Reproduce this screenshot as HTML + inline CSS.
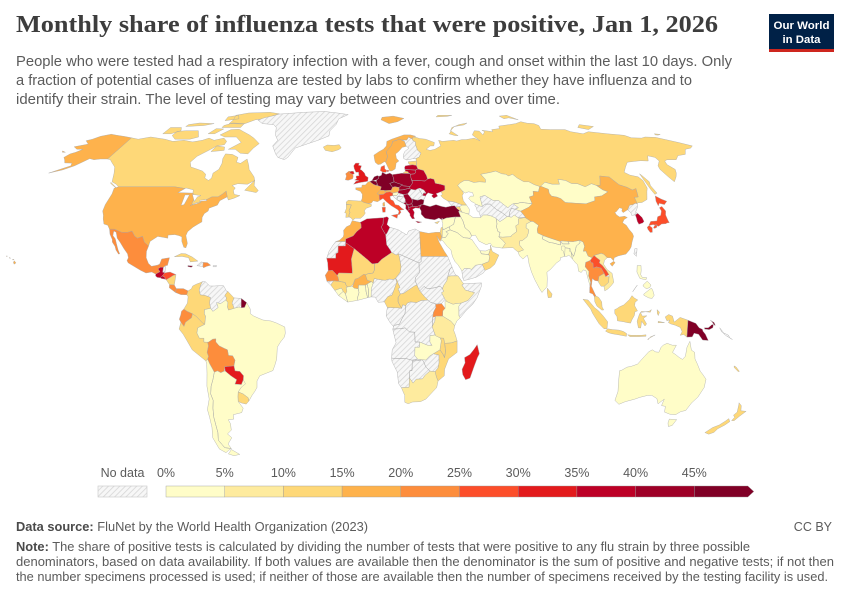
<!DOCTYPE html>
<html>
<head>
<meta charset="utf-8">
<style>
  html,body{margin:0;padding:0;background:#fff;}
  svg{display:block;}
  text{font-family:"Liberation Sans",Arial,sans-serif;}
</style>
</head>
<body>
<svg id="s" width="850" height="600" viewBox="0 0 850 600" xmlns="http://www.w3.org/2000/svg">
  <defs>
    <pattern id="hatch" patternUnits="userSpaceOnUse" width="4" height="4" patternTransform="rotate(45)">
      <rect width="4" height="4" fill="#f7f7f7"/>
      <line x1="0" y1="0" x2="0" y2="4" stroke="#d6d6d6" stroke-width="1.6"/>
    </pattern>
  </defs>
  <rect width="850" height="600" fill="#fff"/>

  <!-- Header -->
  <text x="16" y="32" style="font-family:'Liberation Serif',serif;font-weight:bold;font-size:24px" fill="#3d3d3d" textLength="702" lengthAdjust="spacingAndGlyphs">Monthly share of influenza tests that were positive, Jan 1, 2026</text>
  <text x="16" y="66" font-size="14.3" fill="#5b5b5b" textLength="716" lengthAdjust="spacingAndGlyphs">People who were tested had a respiratory infection with a fever, cough and onset within the last 10 days. Only</text>
  <text x="16" y="85" font-size="14.3" fill="#5b5b5b" textLength="676" lengthAdjust="spacingAndGlyphs">a fraction of potential cases of influenza are tested by labs to confirm whether they have influenza and to</text>
  <text x="16" y="104" font-size="14.3" fill="#5b5b5b" textLength="544" lengthAdjust="spacingAndGlyphs">identify their strain. The level of testing may vary between countries and over time.</text>

  <!-- Logo -->
  <rect x="769" y="14" width="65" height="38" fill="#002147"/>
  <rect x="769" y="49" width="65" height="3" fill="#ce261e"/>
  <text x="801.5" y="29" font-size="11" font-weight="bold" fill="#fff" text-anchor="middle" textLength="56" lengthAdjust="spacingAndGlyphs">Our World</text>
  <text x="801.5" y="43" font-size="11" font-weight="bold" fill="#fff" text-anchor="middle" textLength="38" lengthAdjust="spacingAndGlyphs">in Data</text>

  <g id="map" stroke="#a8a8a8" stroke-width="0.4" stroke-linejoin="round"></g>

  <!-- Legend -->
  <g id="legend"></g>

  <!-- Footer -->
  <text x="16" y="531" font-size="12.5" fill="#5b5b5b" textLength="352" lengthAdjust="spacingAndGlyphs"><tspan font-weight="bold" fill="#4a4a4a">Data source:</tspan> FluNet by the World Health Organization (2023)</text>
  <text x="832" y="531" font-size="12.5" fill="#5b5b5b" text-anchor="end">CC BY</text>
  <text x="16" y="551" font-size="12.5" fill="#5b5b5b" textLength="734" lengthAdjust="spacingAndGlyphs"><tspan font-weight="bold" fill="#4a4a4a">Note:</tspan> The share of positive tests is calculated by dividing the number of tests that were positive to any flu strain by three possible</text>
  <text x="16" y="566" font-size="12.5" fill="#5b5b5b" textLength="818" lengthAdjust="spacingAndGlyphs">denominators, based on data availability. If both values are available then the denominator is the sum of positive and negative tests; if not then</text>
  <text x="16" y="581" font-size="12.5" fill="#5b5b5b" textLength="812" lengthAdjust="spacingAndGlyphs">the number specimens processed is used; if neither of those are available then the number of specimens received by the testing facility is used.</text>
</svg>

<script>
(function(){
var XT=[1,0.9986,0.9954,0.99,0.9822,0.973,0.96,0.9427,0.9216,0.8962,0.8679,0.835,0.7986,0.7597,0.7186,0.6732,0.6213,0.5722,0.5322];
var YT=[0,0.062,0.124,0.186,0.248,0.31,0.372,0.434,0.4958,0.5571,0.6176,0.6769,0.7346,0.7903,0.8435,0.8936,0.9394,0.9761,1];
function ip(t,a){a=Math.min(Math.abs(a),90);var i=Math.min(Math.floor(a/5),17);var f=(a-i*5)/5;return t[i]+(t[i+1]-t[i])*f;}
function P(lon,lat){return [364.9+2.293*ip(XT,lat)*lon, 313.5-209.3*ip(YT,lat)*(lat<0?-1:1)];}
var C={n:'url(#hatch)',a:'#fffdc8',b:'#feeb9e',c:'#fed878',d:'#feb24c',e:'#fd8d3c',f:'#fc4e2a',g:'#e31a1c',h:'#bd0026',i:'#9e0027',j:'#800026',w:'#ffffff'};
var D=[
// North America
['c',[[-141,69.6],[-136,69],[-130,70],[-125,69.5],[-120,69],[-114,68],[-108,68.5],[-102,67.8],[-97,68.5],[-94,69.5],[-90,68.5],[-85,69.5],[-82,68],[-82,66.5],[-86,66],[-88,64.5],[-93,61.5],[-94.5,59],[-92.5,57],[-88,56],[-85,55.3],[-82.5,54],[-82,52.5],[-79.5,51.5],[-78.5,52.5],[-79,54.5],[-77,56],[-77,58.5],[-78,60.5],[-78,62.5],[-74,62.3],[-70,61],[-69.5,59],[-67,58.5],[-64.5,60.3],[-62,57.5],[-61,56],[-57,53],[-56,51.5],[-59,50],[-64,50.2],[-66.5,49.5],[-64.5,48.5],[-65,47.5],[-64,46],[-61,45.5],[-63.5,44.5],[-66,43.8],[-67,45],[-68.5,47.3],[-70,46],[-71.5,45],[-74.5,45],[-76.5,44],[-79,43.3],[-79,42.8],[-82.5,42],[-83,42.5],[-82.5,45],[-84.5,46.5],[-88.5,48.2],[-95,49],[-123,49],[-125,50],[-128,51],[-130.5,54.5],[-133,57],[-137,59],[-139,60],[-141,60.3]],
 [[-62,67],[-64,65],[-65.5,62.5],[-70,62.8],[-74,64.5],[-78,64.5],[-73,67.5],[-78,70],[-85,70],[-89,71],[-85,73.5],[-80,73.7],[-76,72.5],[-71,71],[-67,69.5]],
 [[-118,70.7],[-118,72.6],[-113,73],[-105,73],[-101,70],[-105,69],[-114,69]],
 [[-90,76.5],[-80,76.3],[-75,78.5],[-70,79],[-62,82],[-70,83],[-85,82.5],[-92,81],[-90,78.5]],
 [[-125,71.5],[-125,74.5],[-118,74.5],[-116,73],[-120,71.5]],
 [[-92,74.5],[-80,74.5],[-80,76.5],[-88,76.8],[-92,75.5]],
 [[-97,71.5],[-95,74],[-90,73.8],[-93,71.5]],
 [[-116,75],[-105,75.5],[-100,76.5],[-110,76.8],[-116,76]],
 [[-95,78],[-87,79],[-90,81],[-96,80]],
 [[-59.5,47.6],[-56,51.6],[-55.5,49.5],[-52.7,47.5],[-53.5,46.7],[-55.5,47]],
 [[-87,63.5],[-80,64],[-81,65.5],[-86,66]],
 [[-128.4,50.8],[-123.4,48.4],[-125,49],[-128,50.3]]],
['d',[[-123,49],[-95,49],[-88.5,48.2],[-84.5,46.5],[-82.5,45],[-83,42.5],[-82.5,42],[-79,42.8],[-79,43.3],[-76.5,44],[-74.5,45],[-71.5,45],[-70,46],[-68.5,47.3],[-67,45],[-70,43.5],[-70.5,41.8],[-74,40.6],[-74,39.5],[-75.5,38.5],[-76,37],[-75.5,35.3],[-77,34.5],[-79,33.3],[-81,31.5],[-81.3,30],[-80,27],[-80.3,25.3],[-81.3,25.5],[-82.7,27.8],[-83,29.5],[-84.5,30],[-86.5,30.4],[-89.5,30.2],[-89.3,29],[-91,29.3],[-94,29.7],[-97,27.8],[-97.2,26],[-99.5,27.5],[-101,29.8],[-103,29],[-104.5,29.8],[-106.5,31.8],[-108.2,31.3],[-111,31.3],[-114.8,32.5],[-117.1,32.5],[-118.5,34],[-120.5,34.5],[-121.9,36.5],[-122.5,37.8],[-123.8,39.5],[-124.2,42],[-124,46.2],[-124.7,48.4]],
 [[-141,60.3],[-141,69.6],[-146,70.2],[-152,70.8],[-156.5,71.3],[-161,70.3],[-163.5,69],[-166,68.3],[-162,66.8],[-164,66.4],[-168,65.6],[-164.5,64.5],[-161,64.5],[-163,63.2],[-165,62.5],[-166,61],[-164,60],[-162,58.7],[-158,58.6],[-157,57.5],[-162,55.5],[-164.5,54.5],[-159,55.8],[-155,57.5],[-153,59],[-151,60.5],[-148,60],[-145,60.3]],
 [[-171.5,63.8],[-168.8,63.2],[-170.5,63.2]],
 [[-155.5,19],[-154.8,19.5],[-155.8,20.3],[-156,19.7]],[[-156.7,20.9],[-156,20.8],[-156.5,20.6]],[[-158.3,21.6],[-157.7,21.3],[-158.2,21.3]],[[-159.8,22.2],[-159.3,22.1],[-159.6,21.9]]],
['n',[[-73,78.3],[-68,76.5],[-60,76],[-57,74.5],[-55,71],[-52,68.5],[-53.5,66],[-50,62.5],[-48,61],[-44,60],[-42.5,61],[-40,65],[-35,66.5],[-28,68.5],[-22,70.5],[-22,73],[-19,76],[-18,79],[-12,81.5],[-20,82.5],[-30,83.5],[-45,83],[-55,82.3],[-62,81.8],[-65,80.8],[-70,79.5]]],
['e',[[-117.1,32.5],[-114.8,32.5],[-111,31.3],[-108.2,31.3],[-106.5,31.8],[-104.5,29.8],[-103,29],[-101,29.8],[-99.5,27.5],[-97.2,26],[-97.7,24],[-97.4,21.5],[-96,19.3],[-94.5,18.2],[-92,18.6],[-91,19],[-90.4,21],[-87,21.5],[-87.5,18.5],[-88.3,18.5],[-89.1,17.8],[-90.5,17.8],[-91.4,17.2],[-90.4,16.1],[-92.2,15.2],[-94,16],[-96.5,15.6],[-99,16.6],[-101.5,17.8],[-105,19.5],[-105.7,20.4],[-105.3,21.5],[-106,23],[-108,25],[-110.5,27.5],[-112.2,29],[-113.5,31.3],[-114.8,31.8],[-114.5,30],[-113,28.8],[-112,27],[-110.5,24.5],[-109.5,23],[-110,22.9],[-111.5,24.5],[-112.2,25.8],[-114,27.5],[-114.3,28.5],[-116,30.5]]],
['h',[[-92.2,15.2],[-90.4,16.1],[-91.4,17.2],[-90.5,17.8],[-89.1,17.8],[-89.2,15.9],[-88.2,15.7],[-89.2,14.5],[-90.1,13.8],[-91.4,13.9],[-92.2,14.5]]],
['n',[[-89.1,17.8],[-88.3,18.5],[-88.2,16],[-89.2,15.9]]],
['h',[[-90.1,13.8],[-89.2,14.5],[-88,14],[-87.8,13.2],[-89.5,13.5]]],
['f',[[-89.2,14.5],[-88.2,15.7],[-86,16],[-83.2,15],[-84.5,14.6],[-85.5,14],[-87.3,13],[-87.8,13.2],[-88,14]]],
['c',[[-83.2,15],[-83.6,11],[-85.7,11.1],[-87.3,13],[-85.5,14],[-84.5,14.6]]],
['e',[[-83.6,11],[-82.6,9.6],[-82.9,8.1],[-85.7,9.9],[-85.7,11.1]],[[-82.6,9.6],[-79.5,9.6],[-77.4,8.7],[-77.9,7.2],[-80.5,7.3],[-82.9,8.1]]],
['c',[[-84.9,21.9],[-82,23.1],[-80,23],[-77,21.8],[-74.2,20.2],[-77.5,19.9],[-78.5,21.5],[-81.5,22],[-84,21.9]]],
['n',[[-74.4,18.4],[-72.7,19.9],[-71.7,19.7],[-71.7,18.1]],[[-67.2,18.5],[-65.6,18.4],[-65.8,18],[-67.2,18]]],
['e',[[-71.7,19.7],[-69.9,19.6],[-68.3,18.6],[-70,18.2],[-71.4,17.6],[-71.7,18.1]]],
['j',[[-78.4,18.5],[-76.2,18.3],[-76.8,17.8],[-78.4,18.1]]],
// South America
['c',[[-77.4,8.7],[-76,9.5],[-75.5,10.6],[-74,11.3],[-72.5,11.8],[-71.3,12.3],[-72,11],[-72.5,9],[-72,7.2],[-70,7],[-67.5,6.2],[-67.8,4],[-67.3,2],[-70,1.5],[-70,-0.2],[-69.5,-1],[-69.9,-4.2],[-70.7,-3.8],[-73.5,-1.2],[-75.2,-0.1],[-77.5,0.8],[-79,1.7],[-77.5,4],[-77.3,6.5],[-77.9,7.2]]],
['n',[[-71.3,12.3],[-70,12.2],[-68,10.6],[-66,10.6],[-64,10.7],[-62,10.7],[-60.5,8.5],[-60,8.5],[-61.2,7],[-60.5,6],[-60.7,5.2],[-63,3.8],[-64.8,4.2],[-64,2.3],[-66.3,0.8],[-67.3,2],[-67.8,4],[-67.5,6.2],[-70,7],[-72,7.2],[-72.5,9],[-72,11]]],
['c',[[-60,8.5],[-57.2,6],[-58,4],[-57,2],[-59.5,1.3],[-60,2.5],[-59.8,4.2],[-60.7,5.2],[-60.5,6],[-61.2,7]]],
['n',[[-57.2,6],[-54,5.8],[-54,3.6],[-55,2.5],[-57,2],[-58,4]]],
['j',[[-54,5.8],[-51.6,4.2],[-52.5,2.3],[-54,2.2],[-54,3.6]]],
['e',[[-80,0.9],[-79,1.7],[-77.5,0.8],[-75.2,-0.1],[-75.6,-1.6],[-78.3,-3.4],[-79,-5],[-80.3,-3.4],[-81,-2.2],[-80.3,-0.5]]],
['c',[[-75.2,-0.1],[-73.5,-1.2],[-70.7,-3.8],[-69.9,-4.2],[-73,-5.5],[-73.5,-7.5],[-72.5,-9.5],[-70.5,-9.5],[-70.6,-11],[-69,-11],[-68.7,-12.5],[-69.5,-15],[-69,-16.5],[-69.6,-17.6],[-70.4,-18.3],[-71.5,-17.4],[-76,-14],[-78,-10.5],[-79.5,-8],[-81.2,-6],[-80.3,-3.4],[-79,-5],[-78.3,-3.4],[-75.6,-1.6]]],
['a',[[-60.7,5.2],[-59.8,4.2],[-60,2.5],[-59.5,1.3],[-57,2],[-55,2.5],[-54,2.2],[-52.5,2.3],[-51.6,4.2],[-50,1.7],[-50,0],[-48.5,-1],[-44.5,-2.5],[-41,-2.9],[-38.5,-3.7],[-35,-5.2],[-34.8,-7.5],[-35.2,-9],[-37,-11],[-38.5,-13],[-39,-17.5],[-40,-20],[-41,-22],[-44,-23],[-47,-24],[-48.5,-26],[-48.8,-28.5],[-50,-30],[-51.5,-31.5],[-53.4,-33.7],[-53.5,-32.5],[-55.5,-31],[-57.6,-30.2],[-56,-28.5],[-54.6,-25.6],[-54.3,-24],[-55.8,-22.3],[-57.9,-22.1],[-58.2,-20.2],[-57.5,-18],[-58.4,-16.3],[-60.2,-16.2],[-60.5,-14],[-61.8,-13.5],[-64,-12.5],[-65.4,-11],[-65.3,-9.8],[-66.7,-9.9],[-68.7,-11.1],[-70.6,-11],[-70.5,-9.5],[-72.5,-9.5],[-73.5,-7.5],[-73,-5.5],[-69.9,-4.2],[-69.5,-1],[-70,-0.2],[-70,1.5],[-67.3,2],[-66.3,0.8],[-64,2.3],[-64.8,4.2],[-63,3.8]]],
['e',[[-69.6,-17.6],[-69,-16.5],[-69.5,-15],[-68.7,-12.5],[-69,-11],[-68.7,-11.1],[-66.7,-9.9],[-65.3,-9.8],[-65.4,-11],[-64,-12.5],[-61.8,-13.5],[-60.5,-14],[-60.2,-16.2],[-58.4,-16.3],[-57.5,-18],[-58.2,-20.2],[-62.3,-20.5],[-62.7,-22.2],[-64.3,-22.8],[-65.7,-22.1],[-67.2,-22.6],[-68,-21],[-68.8,-19.5]]],
['g',[[-58.2,-20.2],[-57.9,-22.1],[-55.8,-22.3],[-54.3,-24],[-54.6,-25.6],[-55.7,-27.4],[-58.6,-27.2],[-57.6,-25.5],[-60,-24],[-62.3,-22.2],[-62.3,-20.5]]],
['c',[[-57.6,-30.2],[-55.5,-31],[-53.5,-32.5],[-53.4,-33.7],[-54.9,-34.9],[-57,-34.5],[-58.4,-33.9],[-58.1,-32]]],
['a',[[-64.3,-22.8],[-62.7,-22.2],[-62.3,-22.2],[-60,-24],[-57.6,-25.5],[-58.6,-27.2],[-55.7,-27.4],[-54.6,-25.6],[-53.8,-27.1],[-56,-28.5],[-57.6,-30.2],[-58.1,-32],[-58.4,-33.9],[-57.3,-35.5],[-56.7,-36.5],[-57.8,-38.2],[-62,-39],[-62.3,-40.7],[-65,-41],[-64.5,-42.5],[-65,-45],[-67.5,-46.5],[-66,-48],[-69,-50.5],[-68.3,-52.3],[-71.5,-52],[-72.3,-50.5],[-73.2,-49],[-72,-46],[-71.8,-44],[-71.5,-40],[-70.8,-36.5],[-69.8,-33.5],[-70.3,-31],[-69.5,-28],[-68.2,-25.5],[-67.2,-22.6],[-65.7,-22.1]],
 [[-70.4,-18.3],[-69.6,-17.6],[-68.8,-19.5],[-68,-21],[-67.2,-22.6],[-68.2,-25.5],[-69.5,-28],[-70.3,-31],[-69.8,-33.5],[-70.8,-36.5],[-71.5,-40],[-71.8,-44],[-72,-46],[-73.2,-49],[-72.3,-50.5],[-71.5,-52],[-68.3,-52.3],[-70,-53],[-72,-54],[-74.5,-52.5],[-75.5,-48],[-74,-44],[-73.5,-40],[-73.5,-37],[-71.5,-33],[-71.4,-28],[-70.5,-23],[-70.2,-19.5]],
 [[-68.5,-52.7],[-65.2,-54.7],[-68.5,-55.2],[-71,-54.5]]],
// Europe
['c',[[-22.5,64],[-24,65.5],[-22,66.4],[-18,66.2],[-15,66.5],[-13.6,65.1],[-15,64.3],[-18.5,63.4],[-21,63.8]]],
['d',[[5,62],[5.3,60],[5.6,58.9],[7,58],[8.5,58.2],[10.5,59.2],[11.2,59],[11.8,59.8],[12.5,61.5],[12,63.5],[14,65],[15.5,66.2],[16.5,68],[19,68.5],[20.5,69.1],[22,68.6],[25,68.6],[26.5,69.9],[28.5,69],[29,69.9],[31,70.3],[28,71],[24,71],[20,70],[16,69],[13,68],[12.5,66],[10.5,64.5],[8,63.5]],
 [[11,78.5],[16,76.5],[22,77.5],[27,79.2],[20,80.5],[12,79.8]],
 [[11.2,59],[12.5,56.4],[13,55.4],[14.2,55.4],[16,56.2],[16.5,57.5],[16.8,58.6],[18.5,59.5],[17.3,60.6],[17.2,62.5],[19,63.5],[21.5,65.3],[24,65.8],[23.5,68],[22,68.6],[20.5,69.1],[19,68.5],[16.5,68],[15.5,66.2],[14,65],[12,63.5],[12.5,61.5],[11.8,59.8]]],
['n',[[21.3,60.5],[22.8,59.9],[26,60.4],[28,60.5],[30,61.2],[31.5,62.9],[30,64],[29.5,66.5],[30,67.7],[28.5,68.5],[28.5,69],[26.5,69.9],[25,68.6],[22,68.6],[23.5,68],[24,65.8],[25.3,65],[22.5,63.5],[21.4,62]]],
['f',[[8.1,55.5],[8.6,57.1],[10.5,57.7],[10.5,56.2],[11.5,55.6],[11,54.8],[9.5,54.8]],[[11.8,55.7],[12.6,55.6],[12.2,55],[11.2,55.2]]],
['g',[[-5.7,50],[-3,50.6],[1.4,51.2],[1.7,52.7],[0.3,53.4],[-0.2,54.5],[-1.6,55.6],[-2.5,56],[-1.8,57.5],[-3.5,57.7],[-3,58.6],[-5,58.6],[-6,57.5],[-5.6,56.3],[-5,55.3],[-4.7,54.8],[-3.3,54.9],[-3.2,54],[-3,53.4],[-4.5,53.3],[-4.5,52.8],[-4.2,52.2],[-5.2,51.7],[-3,51.4],[-4.5,51.2]],[[-5.5,54.3],[-6,55.2],[-7.3,55.2],[-8.1,54.5],[-6.2,54]]],
['e',[[-6.2,54],[-6,53],[-6.3,52.2],[-8.5,51.6],[-10,51.8],[-9.5,53.3],[-10,54.2],[-8.5,55.2],[-7.3,55.2],[-8.1,54.5]]],
['d',[[-1.8,43.4],[-1.3,44.5],[-1.2,46],[-2.2,47.2],[-4.5,47.9],[-4.6,48.6],[-1.6,48.7],[-1.4,49.7],[0.2,49.7],[1.6,50.9],[2.5,51.1],[4.2,50],[5.8,49.5],[6.3,49.5],[8.2,49],[7.6,47.6],[7.5,47.6],[6,46.3],[6.9,45.9],[7,45.5],[7,44],[7.5,43.8],[6,43.1],[4,43.5],[3,42.5],[1.7,42.4],[-0.5,42.8]],[[8.6,41.4],[9.5,41.4],[9.4,43],[8.6,42.6]]],
['c',[[-9,43],[-8,43.7],[-3,43.4],[-1.8,43.4],[-0.5,42.8],[1.7,42.4],[3.2,42],[3,41.3],[0.5,40.5],[-0.3,39.5],[0.2,38.7],[-0.7,37.6],[-2,36.7],[-4.5,36.7],[-5.6,36],[-6.4,36.8],[-7.4,37.2],[-7.5,38],[-7,39],[-7.5,39.7],[-6.8,41],[-6.5,41.9],[-8.2,42],[-8.9,42]],
 [[-8.9,42],[-8.2,42],[-6.5,41.9],[-6.8,41],[-7.5,39.7],[-7,39],[-7.5,38],[-7.4,37.2],[-8.9,37],[-8.8,38.7],[-9.5,38.8],[-8.8,40.5]]],
['j',[[3.4,51.4],[4.2,51.4],[6,51.8],[7,52.3],[7.2,53.2],[6.5,53.5],[4.8,53],[4,52]],
 [[2.5,51.1],[3.4,51.4],[4.2,51.4],[5.8,51.1],[6.2,50.2],[5.8,49.5],[4.2,50]],
 [[6,51.8],[7,52.3],[7.2,53.2],[8.5,53.6],[9,54.8],[11,54],[13,54.5],[14.2,53.9],[14.6,52.6],[14.8,51],[12.5,50.3],[13.8,48.8],[13,47.6],[10.5,47.5],[7.6,47.6],[8.2,49],[6.3,49.5],[6.2,50.2],[5.8,51.1]],
 [[12.5,50.3],[14.8,51],[16.5,50.4],[18.8,49.8],[17,48.7],[15,49],[13.8,48.8]]],
['d',[[6,46.3],[7.6,47.6],[9.5,47.6],[10.5,46.8],[9,46],[6.9,45.9]],
 [[9.5,47.5],[13,47.6],[13.8,48.8],[15,49],[17,48.7],[17,47.7],[16.2,46.9],[13.7,46.5],[12.3,47],[10.5,46.8]]],
['i',[[14.2,53.9],[19,54.4],[23.5,54.3],[23.6,52.5],[24,50.5],[22.6,49.1],[19,49.4],[18.8,49.8],[16.5,50.4],[14.8,51],[14.6,52.6]],
 [[17,48.7],[18.8,49.8],[19,49.4],[22.6,49.1],[22.1,48.4],[18.8,47.8],[17,47.7]],
 [[16.2,46.9],[17,47.7],[18.8,47.8],[22.1,48.4],[22.9,48],[21,46.2],[18.8,45.9],[16.5,46.5]],
 [[19,45],[18.8,45.9],[21,46.2],[22.5,44.5],[23,43.5],[22.5,42.3],[20.5,42],[19.5,43],[19.5,44]],
 [[19.4,42],[20.5,42],[20.7,41],[21,40],[20,39.7],[19.3,40.5],[19.5,41.5]],
 [[20.5,42],[22.5,42.3],[23,41.3],[21,40.9],[20.7,41]],
 [[18.5,42.5],[19.5,43],[20.5,42],[19.4,42]]],
['a',[[13.7,46.5],[16.2,46.9],[16.5,46.5],[15.5,45.5],[13.6,45.5]]],
['n',[[13.6,45.5],[15.5,45.5],[16.5,46.5],[18.8,45.9],[19,45],[16,45.2],[15.5,44],[17.5,43],[18.5,42.5],[16,43.5],[14,45]],
 [[16,45.2],[19,45],[19.5,44],[19.5,43],[18.5,42.5],[17.5,43],[15.5,44]]],
['f',[[7,44],[7,45.5],[6.9,45.9],[9,46],[10.5,46.8],[12.3,47],[13.7,46.5],[13.6,45.5],[12.2,45.2],[12.5,44],[13.7,43.5],[14.5,42],[16.2,41.7],[17.5,40.6],[18.5,40.1],[16.6,39.8],[17,39],[16,38],[15.6,38.2],[16.1,39.4],[15.5,40],[14.5,40.6],[12.5,41.6],[10.5,43],[8.8,44.4],[7.5,43.8]],
 [[12.4,37.8],[15.5,38.3],[15,36.7]],[[8.4,39],[9.6,39.1],[9.8,41],[8.2,41]]],
['c',[[23.5,59.2],[28,59.5],[27.5,57.6],[25.5,57.9],[24.3,57.8],[23.5,58.5]]],
['h',[[21,56.8],[21.6,57.5],[24.3,57.8],[25.5,57.9],[27.5,57.6],[28,56.2],[26.5,55.7],[21,56]],
 [[21,56],[26.5,55.7],[26.6,55],[25.8,54.2],[23.5,54],[23.5,54.3],[21.3,55.2]],
 [[23.5,54],[25.8,54.2],[26.6,55],[26.5,55.7],[28,56.2],[30.8,55.6],[31.8,53.5],[32,52.1],[30.5,51.3],[27,51.5],[24,51.6],[23.6,52.5]],
 [[24,51.6],[27,51.5],[30.5,51.3],[32,52.1],[33.5,52.4],[35.3,52],[35.5,50.4],[38,50],[40,49.5],[39.7,47.8],[38.2,47.2],[37.5,47],[35,46.3],[35.5,45.3],[33.5,44.5],[32.5,45.4],[33.5,46],[31,46.6],[30,45.8],[29.6,45.3],[28.2,45.5],[28.7,46.5],[30,46.5],[29.2,47.7],[27.5,48.4],[26.6,48.3],[24.9,47.7],[22.9,48],[22.1,48.4],[22.6,49.1],[24,50.5]],
 [[20,39.7],[21,40],[20.7,41],[21,40.9],[23,41.3],[25,41.3],[26.4,41.8],[26,40.6],[24,40.7],[22.6,40.2],[23.3,39],[22.8,37.5],[23.2,36.5],[22,36.5],[21.1,37.8],[21.2,38.4],[20.2,39.5]],
 [[23.5,35.6],[26.3,35.2],[24.5,34.9]]],
['n',[[26.6,48.3],[27.5,48.4],[29.2,47.7],[30,46.5],[28.7,46.5],[28.2,45.5],[27.3,47.3]],
 [[22.9,48],[24.9,47.7],[26.6,48.3],[27.3,47.3],[28.2,45.5],[29.6,45.3],[28.6,44],[27.2,44.1],[25.5,43.7],[22.7,44.2],[22.5,44.5],[21,46.2]]],
['j',[[22.7,44.2],[25.5,43.7],[27.2,44.1],[28.6,43.7],[27.9,42],[26.4,41.8],[25,41.3],[23,41.3],[22.5,42.3],[23,43.5],[22.5,44.5]],
 [[26,40.6],[26.6,41.8],[28,42],[31,41.2],[34,42],[36.5,41.3],[38.5,41],[41.5,41.5],[42.8,41.6],[43.6,40.5],[44.8,39.7],[44.2,39.4],[44.8,37.2],[42.3,37.2],[41,37.1],[38,36.8],[36.5,36.3],[35.8,36.8],[36.1,36],[34.5,36.8],[32.5,36.1],[30.5,36.3],[28,36.7],[27.2,37.5],[26.4,38.3],[26.6,39.5]]],
['c',[[32.3,35],[34.6,35.6],[33.5,34.6]]],
// Russia
['c',[[37.5,47],[38.2,47.2],[39.7,47.8],[40,49.5],[38,50],[35.5,50.4],[35.3,52],[33.5,52.4],[32,52.1],[31.8,53.5],[30.8,55.6],[28,56.2],[27.6,57.5],[28,59],[28,60.5],[30,61.2],[31.5,62.9],[30,64],[29.5,66.5],[30,67.7],[28.5,68.5],[28.5,69],[29,69.9],[31,69.8],[33,69.3],[36.5,69],[41,67.5],[40,66],[38,66],[35,64.5],[37,64],[40,64.5],[44,66],[44,68.5],[46,68],[53,68.5],[54.5,68.2],[58,68.8],[60.5,68.8],[66,69.5],[68.5,68.2],[66,71],[69,73],[72,72.8],[72.5,71],[75,72.5],[74,73.2],[80,72.5],[80.5,73.5],[86,74],[87,75.2],[95,76],[100,76.5],[105,77.5],[108,76.7],[112,76.5],[113.5,75.5],[112,73.7],[118,73.5],[127,73.5],[129,72.5],[135,71.5],[140,72.5],[150,71.5],[159,70.8],[161,69.6],[167,69.5],[170,70],[176,69.8],[180,68.8],[185,67.5],[190,66],[187,65],[183,64.5],[179,62.3],[174,61.8],[170,60],[165,60],[163,59.5],[162,58],[163.5,56],[162,54.5],[160,53],[156.7,51],[156,53],[155.5,56],[156.5,57.5],[160,59.5],[160,61],[157,61.7],[154,59.5],[150,59.6],[146,59.3],[142,59],[138.5,57],[135.2,54.8],[137,53.7],[140.5,53],[141.3,51.5],[140.5,48.5],[139,47],[136.5,44],[133.2,42.8],[131.2,42.7],[130.6,42.4],[131,44.8],[133,45],[134.7,48.3],[132.5,47.7],[130.7,48.8],[127.5,49.8],[125.5,52.9],[121,53.3],[120,52],[117.8,49.5],[116,49.5],[114,50.2],[110,49],[107,50.2],[104,50.3],[102,51.5],[98.5,52],[97.8,50],[94,50],[91,50.8],[88,49.2],[87.3,49.1],[85,49.8],[83,51],[80.5,51],[78,52.5],[76.5,54],[74,53.3],[73,54],[71,54.2],[68.5,55.3],[65,54.7],[60,54],[61.5,52],[61,50.8],[58,51],[55,50.7],[52.5,51.5],[50.5,51.5],[48,50.5],[46.5,49.5],[47,48.8],[48,47.5],[48.5,46.5],[47.5,45.5],[47.5,43.5],[48.6,41.8],[46.6,41.8],[43,43],[40,43.4],[38,44.5],[37,45.5],[38,46]],
 [[52,71.5],[55,70.7],[57,70.6],[54,73],[56,74.5],[62,76],[68,76.8],[65,75.8],[58,75],[55,73.5],[53,72]],
 [[96,79],[100,79.5],[105,78.5],[101,81],[95,80.5]],
 [[137,74.5],[142,73.5],[148,75],[141,76]],
 [[50,80],[58,80.3],[62,81],[52,81]],
 [[179,71.5],[182,71.2],[180,70.9],[178.5,71]],
 [[142,46],[143.5,46.5],[143,49.5],[144,51],[143,53.5],[142.5,54.2],[142,51.5],[141.7,48]],
 [[19.6,54.4],[22.8,54.4],[22.5,55.1],[21.2,55.2]]],
['n',[[40,43.4],[43,43],[46.6,41.8],[45,41.2],[43.5,41.1],[42.8,41.6],[41.5,41.5]]],
['a',[[45,41.2],[46.6,41.8],[48.6,41.8],[49.5,40.2],[48.9,38.4],[48,38.5],[46,38.9],[45.5,39.5]]],
['c',[[43.5,41.1],[45,41.2],[45.5,39.5],[46,38.9],[44.8,39.7],[43.6,40.5]]],
// Africa
['d',[[-5.9,35.8],[-2.2,35.1],[-1.8,34.5],[-1.7,33],[-3.7,31.6],[-5.3,29.9],[-8.7,28.7],[-8.7,27.7],[-13.2,27.7],[-11.5,28.2],[-9.8,29.6],[-9.6,30.6],[-9.8,32],[-8.5,33.4],[-6.8,34.1]]],
['n',[[-8.7,27.7],[-13.2,27.7],[-14.5,26.2],[-16,24],[-17,21.3],[-13,21.3],[-13,23],[-12,23.5],[-12,26],[-8.7,26]]],
['g',[[-17,21.3],[-16.5,19.5],[-16.2,16.5],[-14.3,16.6],[-12.2,14.6],[-11.5,15.6],[-5.5,15.5],[-5.5,16.4],[-6,21],[-4.8,25],[-8.7,27.3],[-8.7,26],[-12,26],[-12,23.5],[-13,23],[-13,21.3]]],
['h',[[-2.2,35.1],[1,36.5],[8.6,36.9],[8.4,34.5],[7.5,33.3],[9.5,30.2],[9.8,26.5],[11.5,24.3],[12,23.5],[7.5,20.9],[5.8,19.4],[4.3,19.2],[3.2,19.1],[1.2,20.7],[-4.8,25],[-8.7,27.3],[-8.7,28.7],[-5.3,29.9],[-3.7,31.6],[-1.7,33],[-1.8,34.5]],
 [[8.6,36.9],[10.3,37.3],[11.1,36.8],[10.2,34.3],[11.5,33.2],[10.3,31.2],[9.5,30.2],[7.5,33.3],[8.4,34.5]]],
['n',[[11.5,33.2],[15.2,32.3],[19,30.3],[20,31.8],[23,32.6],[25,31.6],[25,22],[25,20],[24,19.5],[15,23],[14,22.5],[12,23.5],[11.5,24.3],[9.8,26.5],[9.5,30.2],[10.3,31.2]],
 [[15,23],[24,19.5],[24,15.7],[22.4,14],[22,12.8],[22.8,11],[21.7,10.6],[19,9],[17,7.8],[15.5,7.5],[14.5,9.5],[15.4,10],[14.6,11.5],[14,13],[13.5,13.6],[15.6,16],[16,18],[15.5,20.8]],
 [[24,19.5],[25,20],[25,22],[36.9,22],[38.5,18],[37.5,17],[36.5,14.3],[36,12.6],[34.5,10.8],[34,9.5],[33,10.5],[30.5,9.9],[27.5,9.5],[25.9,10.4],[24,8.7],[23.5,9.5],[22.8,11],[22,12.8],[22.4,14],[24,15.7]],
 [[34,9.5],[34.5,8.5],[33.5,8],[35,5.5],[33.5,3.8],[31,3.7],[28.5,4.4],[27.5,5.2],[26,6.5],[24,8.7],[25.9,10.4],[27.5,9.5],[30.5,9.9],[33,10.5]],
 [[38.5,18],[39.5,15.5],[42.5,12.5],[41,14.5],[38,14.5],[36.5,14.3],[37.5,17]],
 [[43.3,11.5],[51.2,11.8],[51,10.4],[49,6],[47,3.5],[44,1],[41.6,-1.7],[41,-0.9],[41,2.8],[42,4],[45,5],[48,8],[44,9],[42.5,11]],
 [[31,2.3],[29.9,0.5],[29.6,-1.4],[29.4,-5],[30.2,-7],[30.7,-8.3],[28.5,-8.5],[28.5,-11],[29.5,-12.3],[27.5,-12.2],[24,-11],[22,-11],[21.8,-7.2],[19.5,-7.1],[17.5,-5.5],[16.2,-5.8],[12.2,-6],[12.5,-5],[13,-4.5],[15,-4.2],[16.2,-2],[17.5,0],[17.8,3],[18.5,4],[20,4.5],[22.5,4.2],[24.5,5],[27.5,5.2],[28.5,4.4],[31,3.7],[30.8,3.5]],
 [[12.5,-5],[11,-3.5],[9.3,-1],[9.5,1],[9.8,2.3],[11.3,2.3],[13.3,2.2],[14.5,2.2],[16,2],[16.5,3.4],[17.8,3],[17.5,0],[16.2,-2],[15,-4.2],[13,-4.5]],
 [[2.7,6.4],[4.5,6.3],[5.8,4.3],[7,4.4],[8.5,4.5],[8.8,5],[10,6.5],[11.8,7],[12.5,8.5],[14,12],[13.5,13.6],[12.5,13.1],[10.7,13.3],[9,12.8],[7,13],[4.1,13.5],[3.6,11.7],[2.8,9.5]],
 [[29.6,-1.4],[30.8,-1],[30.5,-3],[29.4,-5]],
 [[12.2,-6],[16.2,-5.8],[17.5,-5.5],[19.5,-7.1],[21.8,-7.2],[22,-11],[24,-11],[24,-13],[22,-13],[22,-16.2],[23.4,-17.6],[20.8,-18],[18.5,-17.4],[13.5,-17.3],[11.8,-17.2],[12,-14],[13.7,-11.3],[13,-9],[12.3,-6.5]],
 [[25.2,-17.8],[27,-17.9],[28.5,-16.5],[30.2,-15.5],[32.7,-16],[32.9,-19],[32.5,-21],[31.3,-22.4],[29,-22.2],[27,-20.5],[26,-18.5]],
 [[11.8,-17.2],[13.5,-17.3],[18.5,-17.4],[20.8,-18],[23.4,-17.6],[25.2,-17.8],[23.5,-18.2],[21,-18.3],[21,-22],[20,-22],[20,-28.4],[16.5,-28.6],[15.2,-27],[14.4,-22.5],[12,-18.5]],
 [[20,-22],[21,-22],[21,-18.3],[23.5,-18.2],[25.2,-17.8],[26,-18.5],[27,-20.5],[29,-22.2],[27,-23.7],[25.8,-25.2],[23,-25.3],[21.7,-26.8],[20,-24.8]],
 [[42.8,16.3],[43.3,16.7],[44,17.4],[46.5,17.3],[47,16.9],[49,18.6],[52,19],[53.1,16.6],[52.2,15.6],[49,14],[45,13],[43.4,12.7],[43,14]],
 [[-15,11],[-13.7,12.6],[-16.7,12.4]]],
['d',[[25,31.6],[29,30.9],[32.3,31.3],[34.2,31.3],[34.9,29.5],[34,27.8],[32.6,29.9],[33.5,27.5],[35.5,24],[36.9,22],[25,22]]],
['c',[[-12.2,14.6],[-11.5,15.6],[-5.5,15.5],[-5.5,16.4],[-6,21],[-4.8,25],[1.2,20.7],[3.2,19.1],[4.3,19.2],[4.3,16.9],[3.6,15.6],[1.3,15.3],[0.2,14.9],[-0.5,15.1],[-2,14.2],[-3,13.6],[-4.3,13.2],[-5.4,11],[-6.5,10.4],[-7.6,10.2],[-8.3,11],[-8.7,12],[-10.3,12.2],[-11.4,12.4],[-11.8,14]],
 [[4.3,19.2],[5.8,19.4],[7.5,20.9],[12,23.5],[14,22.5],[15,23],[15.5,20.8],[16,18],[15.6,16],[13.5,13.6],[12.5,13.1],[10.7,13.3],[9,12.8],[7,13],[4.1,13.5],[3.6,11.7],[2.8,12.3],[1,12.8],[0.2,14.9],[1.3,15.3],[3.6,15.6],[4.3,16.9]],
 [[14.5,6.2],[15.5,7.5],[17,7.8],[19,9],[21.7,10.6],[22.8,11],[23.5,9.5],[24,8.7],[26,6.5],[27.5,5.2],[24.5,5],[22.5,4.2],[20,4.5],[18.5,4],[17.8,3],[16.5,3.4],[16,2],[15,3.5],[14.5,4.5]],
 [[8.5,4.5],[9.8,2.3],[11.3,2.3],[13.3,2.2],[14.5,2.2],[16,2],[15,3.5],[14.5,4.5],[14.5,6.2],[15.5,7.5],[14.5,9.5],[15.4,10],[14.6,11.5],[14,13],[13.5,13.6],[14,12],[12.5,8.5],[11.8,7],[10,6.5],[8.8,5]],
 [[-13.2,8.9],[-10.3,9.8],[-9.5,8.5],[-8.5,7.5],[-7.9,8.5],[-8.2,10.1],[-7.6,10.2],[-8.3,11],[-8.7,12],[-10.3,12.2],[-11.4,12.4],[-13.7,12.6],[-15,11]],
 [[33,-9.4],[34.5,-9.5],[35,-11.5],[35.5,-14.5],[35.2,-17],[34.3,-15.5],[33,-14],[33.5,-10.5]],
 [[35,-11.5],[38,-11.3],[40.4,-10.5],[40.6,-15],[37,-17.5],[35.5,-21.5],[35.5,-24],[32.9,-26],[32,-24.5],[31.3,-22.4],[32.5,-21],[32.9,-19],[32.7,-16],[30.2,-15.5],[33,-14],[34.3,-15.5],[35.2,-17],[35.5,-14.5]]],
['a',[[1.6,6.2],[2.7,6.4],[2.8,9.5],[3.6,11.7],[2.8,12.3],[1,11.4],[1.6,9]],
 [[1.2,6.1],[1.6,6.2],[1.6,9],[1,11.2],[0.2,11],[0.5,8.5]],
 [[-3.1,5.1],[1.2,6.1],[0.5,8.5],[0.2,11],[-2.8,11],[-2.9,9.5],[-2.6,8],[-3.2,6.2]],
 [[-7.5,4.4],[-3.1,5.1],[-3.2,6.2],[-2.6,8],[-2.9,9.5],[-4.7,9.8],[-5.4,10.4],[-6.5,10.4],[-7.6,10.2],[-8.2,10.1],[-7.9,8.5],[-8.5,7.5]],
 [[-7.5,4.4],[-8.5,7.5],[-9.5,8.5],[-11.5,6.9]],
 [[-11.5,6.9],[-9.5,8.5],[-10.3,9.8],[-13.2,8.9]],
 [[41,2.8],[41,-0.9],[41.6,-1.7],[40.2,-2.8],[39.2,-4.7],[37.6,-3],[33.9,-1],[34,1],[35,2],[35,5],[36,4.5],[38.5,3.6],[40,3.9],[42,4]],
 [[24,-11],[27.5,-12.2],[29.5,-12.3],[28.5,-11],[28.5,-8.5],[30.7,-8.3],[33,-9.4],[33.5,-10.5],[33,-14],[30.2,-15.5],[28.5,-16.5],[27,-17.9],[25.2,-17.8],[23.4,-17.6],[22,-16.2],[22,-13],[24,-13]]],
['d',[[-5.4,10.4],[-4.3,13.2],[-3,13.6],[-2,14.2],[-0.5,15.1],[0.2,14.9],[1,12.8],[2.8,12.3],[1,11.4],[0.2,11],[-2.8,11],[-2.9,9.5],[-4.7,9.8]]],
['e',[[-16.7,12.4],[-13.7,12.6],[-11.4,12.4],[-11.8,14],[-12.2,14.6],[-14.3,16.6],[-16.2,16.5],[-17.5,14.7]],
 [[33.9,-1],[29.6,-1.4],[29.9,0.5],[31,2.3],[30.8,3.5],[33.5,3.8],[35,2],[34,1]]],
['b',[[36.5,14.3],[38,14.5],[41,14.5],[42.5,12.5],[43.3,11.5],[42.5,11],[44,9],[48,8],[45,5],[42,4],[40,3.9],[38.5,3.6],[36,4.5],[35,5.5],[33.5,8],[34.5,8.5],[34,9.5],[34.5,10.8],[36,12.6]],
 [[33.9,-1],[37.6,-3],[39.2,-4.7],[38.8,-6.5],[39.5,-8],[40.4,-10.5],[38,-11.3],[35,-11.5],[34.5,-9.5],[33,-9.4],[31,-8.6],[30.2,-7],[29.4,-5],[30.5,-3],[30.8,-1]],
 [[16.5,-28.6],[20,-28.4],[20,-24.8],[21.7,-26.8],[23,-25.3],[25.8,-25.2],[27,-23.7],[29,-22.2],[31.3,-22.4],[32,-24.5],[32.9,-26],[32.5,-28.5],[31,-30],[28,-33],[25.6,-34],[22,-34.1],[20,-34.8],[18.4,-34.2],[18.2,-31.5],[17,-29.5]]],
['g',[[49.3,-12],[50.5,-15.5],[49.7,-17],[48.5,-20.5],[47.1,-24.9],[45.2,-25.5],[43.7,-23.5],[43.3,-21.5],[44.4,-19],[44,-17],[46.3,-15.8],[48,-13.8]]],
// Middle East & Asia
['a',[[36.5,29.3],[38,30.8],[37,31.5],[39,32.2],[42,31.2],[44.7,29.2],[46.5,29.1],[48.4,28.5],[49.6,26.7],[50.8,25],[51.5,24.2],[52,23],[55.2,22.7],[55.6,22],[55,20],[52,19],[49,18.6],[47,16.9],[46.5,17.3],[44,17.4],[43.3,16.7],[42.8,16.3],[42.6,16.8],[41.2,18.8],[40,20],[39,22],[38.5,24.5],[37,25.8],[35.2,28],[34.6,28.1],[35,29.4]],
 [[51.5,24.2],[54,24.1],[56.3,24.9],[55.2,22.7],[52,23]],
 [[35,29.4],[36.5,29.3],[38,30.8],[37,31.5],[39,32.2],[38.8,33.4],[36,32.3],[35.5,32.4]],
 [[35.7,35.8],[36.5,36.3],[38,36.8],[41,37.1],[42.3,37.2],[41,34.4],[38.8,33.4],[36,32.3],[35.6,33.2],[36,34.6]],
 [[42.3,37.2],[44.8,37.2],[45.5,35.7],[46,33],[47.8,31.5],[48.5,29.9],[47.7,29],[46.5,29.1],[44.7,29.2],[42,31.2],[39,32.2],[38.8,33.4],[41,34.4]],
 [[44.8,37.2],[44.2,39.4],[48,38.5],[49,38],[50.5,37],[54,37],[55.5,38],[57.3,38],[59.5,37.5],[61.2,36.6],[61,34.5],[60.5,33.5],[60.8,31.5],[61.7,31.3],[60.8,29.5],[62.5,28],[63.3,27],[61.6,25.2],[57.4,25.7],[56.5,27.1],[54.6,26.5],[51.5,27.9],[50.2,30.2],[48.5,29.9],[47.8,31.5],[46,33],[45.5,35.7]],
 [[46.5,49.5],[48,50.5],[50.5,51.5],[52.5,51.5],[55,50.7],[58,51],[61,50.8],[61.5,52],[60,54],[65,54.7],[68.5,55.3],[71,54.2],[73,54],[74,53.3],[76.5,54],[78,52.5],[80.5,51],[83,51],[85,49.8],[87.3,49.1],[85.5,47],[83,47.2],[82.3,45.5],[80,45],[80.2,42.3],[75,42.9],[73.5,42.5],[71,42.3],[69,41.4],[68,40.7],[66.5,41.9],[64.5,43.6],[62,43.5],[58.5,45.6],[56,45],[56,41.3],[55.4,41.3],[53,42.2],[52.5,42.7],[51.3,43.2],[50.3,44.4],[51.5,45.3],[53,45.3],[53,46.7],[51,47],[49.3,46.5],[48,47.5],[47,48.8]],
 [[71,42.3],[73.5,42.5],[75,42.9],[80.2,42.3],[78,41],[74,39.6],[73.5,39.4],[71,40.2],[73,40.8]],
 [[61.2,36.6],[62.5,35.4],[64.5,36.3],[66.5,37.4],[67.5,37.3],[68.4,37.1],[70,38],[71.5,37],[74.8,37],[71.5,36.5],[71,34.5],[69.5,33.8],[69.3,31.5],[66.5,30],[66.3,29.6],[62.5,29.4],[60.8,29.5],[61.7,31.3],[60.8,31.5],[60.5,33.5],[61,34.5]],
 [[68.5,23.7],[71,24.5],[69.5,26.5],[70,28],[71,28],[73.5,29.5],[74.5,31],[75,32.3],[74,33],[74.5,34.5],[77,35.5],[78,35.5],[80,34],[79,32.5],[78.8,31],[81,30],[80.3,28.8],[83.3,27.3],[84.7,27.2],[88,26.4],[88.2,27.8],[89,26.8],[92,26.8],[91.7,27.8],[94,27.7],[97.2,28.2],[97,27.2],[95,26],[94,23.8],[93,22],[92.2,23.6],[91.5,24],[91.8,25.1],[89.8,25.3],[89,22],[87,21.5],[86.8,20.5],[85,19.5],[82,17],[80.3,15.9],[80.2,13.5],[79.8,10.3],[78.3,8.9],[77.5,8.1],[76.5,9.5],[75.5,11.5],[74.7,13],[73.5,16],[72.8,19],[72.7,21],[72.5,22.5],[70.3,21],[68.9,22.3]],
 [[80.3,28.8],[81,30],[83.5,29.2],[88.2,27.8],[88,26.4],[84.7,27.2],[83.3,27.3]],
 [[88.8,27.3],[89,28],[91.7,27.8],[92,26.8],[89,26.8]],
 [[89,22],[88.8,24],[88,24.5],[88.5,26],[89.8,26],[89.8,25.3],[92,25.1],[92.2,23.6],[92.3,21],[91,22.5],[90,22]],
 [[92.3,21],[92.2,23.6],[93,22],[94,23.8],[95,26],[97,27.2],[97.2,28.2],[98.5,27.5],[98.7,25.9],[97.7,24],[98.9,24.1],[99.5,22.1],[101.2,21.5],[100,20.4],[98,19.7],[97.5,18],[98.9,16.2],[98.5,14.5],[99.1,12.5],[98.7,10.5],[98.4,12],[97.6,16.5],[96.5,16.8],[95.4,15.8],[94.3,16.3],[94.3,18.8],[93.5,19.5]],
 [[87.8,49.2],[91,48],[90.5,46.5],[91,45.3],[93.5,44.9],[95,44.3],[96.3,42.8],[101.5,42.5],[106,42.3],[111,43.5],[111.8,45],[115.5,45.4],[119.8,47],[117.8,47.8],[116,49.5],[114,50.2],[110,49],[107,50.2],[104,50.3],[102,51.5],[98.5,52],[97.8,50],[94,50],[91,50.8]],
 [[120.6,18.5],[122.3,18.5],[122,16.5],[121.5,15],[122,14],[124,13.8],[123.5,13],[121,13.5],[120.6,14.3],[120,16]],
 [[122,7],[124,6],[125.5,5.8],[126.5,7],[126,9],[125.5,9.8],[123.5,8.5],[122,7.5]],
 [[122,11],[124,12.5],[125.5,11],[124.8,10],[123.3,9.5],[122,10.5]],
 [[117.2,8.4],[119.5,11],[119,10.5]],
 [[113.5,-22],[114,-26],[115,-30],[115,-33.5],[117.5,-35],[120,-34],[124,-33],[126,-32.3],[129,-31.6],[131,-31.5],[134,-32.8],[135.5,-34.8],[137.5,-33],[137.5,-35.5],[139.5,-35.8],[140.5,-38],[143.5,-38.8],[146.3,-39],[148,-37.8],[150,-37.4],[150.8,-34.5],[152.5,-32.2],[153.5,-28.5],[153,-25.3],[151,-23.5],[149.5,-22.2],[147.5,-19.5],[146,-17.5],[145.3,-15],[143.7,-14.1],[142.5,-10.7],[141.6,-13],[141.5,-16.5],[140.5,-17.7],[139,-17],[137,-15.8],[135.5,-15],[136.8,-12.2],[135,-12.2],[132.6,-11.5],[131,-12.2],[130.2,-13],[129.5,-14.9],[128,-14.8],[126.5,-14],[125,-14.7],[123.5,-16.5],[122.2,-18],[121,-19.5],[118.5,-20.3],[116.5,-20.7],[114.5,-21.8]],
 [[144.6,-40.7],[148.3,-40.9],[148,-43.2],[146.5,-43.6],[145.2,-42.2]]],
['c',[[55.6,22],[55.2,22.7],[56.3,24.9],[56.4,26.4],[57,23.9],[59.8,22.5],[58.5,20.5],[57.5,18.9],[55.5,17.5],[53.1,16.6],[52,19],[55,20]],
 [[34.3,31.3],[35,29.4],[35.5,32.4],[35.6,33.2],[35,33.1]],
 [[79.9,9.8],[81.9,7.5],[81.5,6.2],[80.1,6.1],[79.8,8]],
 [[102.5,12.5],[103,14.3],[105.5,15.5],[106,14.2],[107.5,14.2],[107,12],[105,10.5],[103.5,10.5],[102.6,12]],
 [[100.3,6.5],[101,6.8],[102.2,6.2],[103.4,4.5],[103.5,2.5],[104.2,1.4],[103.4,1.3],[101.3,2.8],[100.4,4.5]],
 [[109,1.5],[110,1.9],[111,2.5],[113,3.3],[115.5,5.3],[116.8,6.9],[117.7,6],[119.2,5.2],[118,4.3],[117.7,3],[118.9,1],[117.8,0.7],[117.5,-0.8],[116.5,-2.5],[116,-3.7],[114.5,-3.5],[113,-3.2],[111.5,-3],[110.2,-2.8],[110,-1.2],[109,0]],
 [[95.3,5.5],[97.5,5.2],[100.3,2.2],[102,1],[104,-1],[106,-3.2],[105.8,-5.8],[104.5,-5.9],[102.3,-4],[100.8,-2],[99.2,0.2],[98.5,1.7]],
 [[105.2,-6.8],[106,-5.9],[108.3,-6.2],[111,-6.4],[113,-6.9],[114.5,-7.7],[114.5,-8.8],[111,-8.2],[108,-7.8],[106.5,-7.4]],
 [[118.8,-3],[119.5,-5.5],[120.5,-5.6],[120.8,-3],[122.3,-4.8],[123,-4],[121.5,-1.9],[123,-0.9],[121,-1],[120.2,0.4],[124,0.9],[125,1.5],[124.5,0.5],[120.6,0.8],[119.8,-0.1],[119.3,-1.5]],
 [[115,-8.2],[116.7,-8.4],[119,-8.4],[121,-8.4],[123,-8.2],[123,-8.8],[120,-8.9],[116,-8.9]],
 [[124,-9.8],[127,-8.3],[125,-9],[124,-10.2]],
 [[127.5,1.5],[128.5,0.5],[128,-0.8],[127.5,0]],
 [[128,-3],[130.8,-3.5],[128,-3.6]],
 [[131,-1.3],[132.5,-0.4],[134.2,-1],[135,-3.3],[137.5,-1.5],[141,-2.6],[141,-9.1],[139.5,-8.1],[138,-8.4],[138.7,-7],[137.8,-5.4],[135.5,-4.5],[133.5,-4],[132.5,-3.5],[133,-2.5],[131.8,-2.8]],
 [[172.7,-34.4],[174.5,-35.5],[175.9,-37.5],[178.5,-37.7],[177,-39.5],[176,-41.3],[174.8,-41.3],[175,-40],[173.8,-39.2],[174.6,-38],[173,-35]],
 [[172.7,-40.5],[174.3,-41.7],[173.2,-43],[171.2,-44.5],[170.8,-45.9],[169,-46.6],[166.5,-46],[168.3,-44],[170.5,-43],[172,-41.5]],
 [[164,-20.2],[165,-20.6],[167,-22.3],[166.5,-22.4],[164.2,-20.8]]],
['b',[[60.8,29.5],[62.5,29.4],[66.3,29.6],[66.5,30],[69.3,31.5],[69.5,33.8],[71,34.5],[71.5,36.5],[74.8,37],[77,35.5],[74.5,34.5],[74,33],[75,32.3],[74.5,31],[73.5,29.5],[71,28],[70,28],[69.5,26.5],[71,24.5],[68.5,23.7],[67,24.8],[66.5,25.4],[64,25.3],[61.6,25.2],[63.3,27],[62.5,28]],
 [[102.2,22.4],[103.5,22.7],[105.5,23.2],[106.7,22.8],[107.9,21.5],[106.5,20.5],[105.8,19],[107,17],[109,15.5],[109.3,12],[108,10.7],[106.5,9.5],[105,8.7],[104.8,10.3],[105,10.5],[107,12],[107.5,14.2],[107.5,15],[106.7,16.5],[105.2,18.5],[104,19.5],[104.5,20.5],[103,21.6]]],
['n',[[52.5,41.8],[53,42.2],[55.4,41.3],[56,41.3],[57.5,42.2],[60,42.2],[61,41.2],[62.4,40],[64.5,38.9],[66.5,37.4],[64.5,36.3],[62.5,35.4],[61.2,36.6],[59.5,37.5],[57.3,38],[55.5,38],[54,37],[53.9,38.9],[53,39.5],[53,40.8]],
 [[56,41.3],[56,45],[58.5,45.6],[62,43.5],[64.5,43.6],[66.5,41.9],[68,40.7],[69,41.4],[71,42.3],[73,40.8],[71,40.2],[69.5,40.5],[68,38.8],[67.5,37.3],[66.5,37.4],[64.5,38.9],[62.4,40],[61,41.2],[60,42.2],[57.5,42.2]],
 [[68,38.8],[69.5,40.5],[71,40.2],[73.5,39.4],[75,37.2],[74.8,37],[71.5,37],[70,38],[68.4,37.1],[67.5,37.3]],
 [[124.3,40],[126.5,41.8],[128.2,42],[129.7,42.5],[130.6,42.4],[129.7,41],[128,39.5],[127.5,39],[128.3,38.6],[126.8,38],[125,37.8],[125.2,38.8]],
 [[120.1,23],[121,25],[122,25],[121,22]],
 [[155,-5.5],[156,-6.5],[157,-7.5],[159,-8.3],[160,-9.5],[161,-10],[158,-8.5],[156,-7]]],
['e',[[98.5,14.5],[98.9,16.2],[97.5,18],[98,19.7],[100,20.4],[100.5,19.5],[101.2,19.5],[101,17.5],[102.5,18],[104.5,17.5],[105.5,15.5],[103,14.3],[102.5,12.5],[101,12.7],[100,13.5],[99.3,10.5],[100.3,8.3],[101,6.8],[100.3,6.5],[99.7,7.5],[98.3,8],[98.5,10],[99.2,12]]],
['f',[[100.1,20.4],[101.2,21.5],[102.2,22.4],[103,21.6],[104.5,20.5],[104,19.5],[105.2,18.5],[106.7,16.5],[107.5,15],[106,14.2],[105.5,15.5],[104.5,17.5],[102.5,18],[101,17.5],[101.2,19.5],[100.5,19.5]],
 [[130.9,34],[132.5,35.5],[135.5,35.7],[136.8,37.3],[138.6,37.8],[140,39.5],[140,40.8],[141.5,41.3],[142,39.5],[141,38],[140.8,36],[140.8,35],[139.8,34.9],[139,34.6],[137,34.5],[135.2,33.6],[133,34.3],[131,33.9]],
 [[140,41.5],[140.3,43.3],[141.6,45.4],[143.5,44.2],[145.5,43.3],[143.3,42],[141.2,42.5]],
 [[129.8,33.3],[131,33.9],[132,33],[131.2,31.3],[130.2,31.2],[129.7,32.5]],
 [[132.5,33],[134,34.3],[134.7,34.2],[134.2,33.2],[133,32.8]]],
['h',[[126.8,38],[128.3,38.6],[129.4,37],[129.4,35.5],[128.5,34.9],[126.5,34.4],[126.3,35.5],[126.7,37]]],
['d',[[73.5,39.5],[75,37.2],[74.8,37],[77,35.5],[78,35.5],[80,34],[79,32.5],[78.8,31],[81,30],[83.5,29.2],[88.2,27.8],[89,28],[91.7,27.8],[94,27.7],[97.2,28.2],[98.5,27.5],[98.7,25.9],[97.7,24],[98.9,24.1],[99.5,22.1],[101.2,21.5],[102.2,22.4],[103.5,22.7],[105.5,23.2],[106.7,22.8],[107.9,21.5],[109.5,21.5],[110.5,20.3],[111,21.5],[113,22.2],[114.5,22.5],[116.5,22.9],[118.5,24.5],[119.6,25.7],[120.5,27.5],[122,29.8],[121.9,30.9],[121,32.5],[120.5,34],[119.2,35],[120.5,36.2],[122.5,37],[121.5,37.5],[119,37.2],[118,38],[117.7,39],[118.5,39.2],[121,40.8],[122.1,40.4],[121.3,39.5],[121.6,38.9],[124.3,40],[126.5,41.8],[128.2,42],[129.7,42.5],[130.6,42.4],[131,44.8],[133,45],[134.7,48.3],[132.5,47.7],[130.7,48.8],[127.5,49.8],[125.5,52.9],[121,53.3],[120,52],[117.8,49.5],[116,49.5],[117.8,47.8],[119.8,47],[115.5,45.4],[111.8,45],[111,43.5],[106,42.3],[101.5,42.5],[96.3,42.8],[95,44.3],[93.5,44.9],[91,45.3],[90.5,46.5],[91,48],[88,49.2],[87.3,49.1],[85.5,47],[83,47.2],[82.3,45.5],[80,45],[80.2,42.3],[78,41],[74,39.6]],
 [[108.7,19.2],[110.5,20.1],[111,19.6],[109.5,18.2]]],
['j',[[141,-2.6],[144.5,-3.8],[146,-5.5],[147.5,-6.1],[147.8,-6.8],[149,-8],[150.5,-10.4],[148,-10.2],[146,-8],[144,-7.6],[143.3,-9],[141,-9.1]],
 [[148.3,-5.5],[150,-5.5],[151.5,-4.3],[152.2,-4.2],[152,-5.5],[150.5,-6.2],[148.5,-6]],
 [[150.8,-2.6],[152.5,-3.5],[153,-4.6],[152.6,-4.5],[151.5,-3.2]]],
// lakes
['w',[[-92,46.7],[-84.5,46.5],[-85,47.8],[-89,48.5]],[[-87.8,41.7],[-86.5,42],[-85.8,45.8],[-88,45.8]],[[-84.5,46],[-82.2,43.2],[-81.5,45],[-80,45.5]],[[-83.5,41.6],[-79,42.8],[-81,42.7]],[[-79.8,43.3],[-76.2,43.5],[-77,44],[-79.5,43.7]]]
];
var g=document.getElementById('map');
var out='';
for(var k=0;k<D.length;k++){
  var e=D[k];var col=C[e[0]];var d='';
  for(var r=1;r<e.length;r++){
    var ring=e[r];
    for(var q=0;q<ring.length;q++){var p=P(ring[q][0],ring[q][1]);d+=(q?'L':'M')+p[0].toFixed(1)+' '+p[1].toFixed(1);}
    d+='Z';
  }
  out+='<path d="'+d+'" fill="'+col+'"/>';
}
g.innerHTML=out;

// Legend
var L=document.getElementById('legend');
var cols=['#fffdc8','#feeb9e','#fed878','#feb24c','#fd8d3c','#fc4e2a','#e31a1c','#bd0026','#9e0027','#800026'];
var x0=166,w=58.7,y0=486,h=11;
var s='';
s+='<rect x="98" y="'+y0+'" width="49" height="'+h+'" fill="url(#hatch)" stroke="#c8c8c8" stroke-width="0.6"/>';
s+='<text x="122.5" y="477" font-size="12.5" fill="#5b5b5b" text-anchor="middle">No data</text>';
for(var i=0;i<10;i++){
  var x=x0+i*w;
  if(i<9){s+='<rect x="'+x+'" y="'+y0+'" width="'+w+'" height="'+h+'" fill="'+cols[i]+'" stroke="#9a9a9a" stroke-width="0.4"/>';}
  else{s+='<path d="M'+x+' '+y0+'L'+(x+53.5)+' '+y0+'L'+(x+59.5)+' '+(y0+h/2)+'L'+(x+53.5)+' '+(y0+h)+'L'+x+' '+(y0+h)+'Z" fill="'+cols[i]+'" stroke="#9a9a9a" stroke-width="0.4"/>';}
  s+='<text x="'+x+'" y="477" font-size="12.5" fill="#5b5b5b" text-anchor="middle">'+(i*5)+'%</text>';
}
L.innerHTML=s;
})();
</script>
</body>
</html>
